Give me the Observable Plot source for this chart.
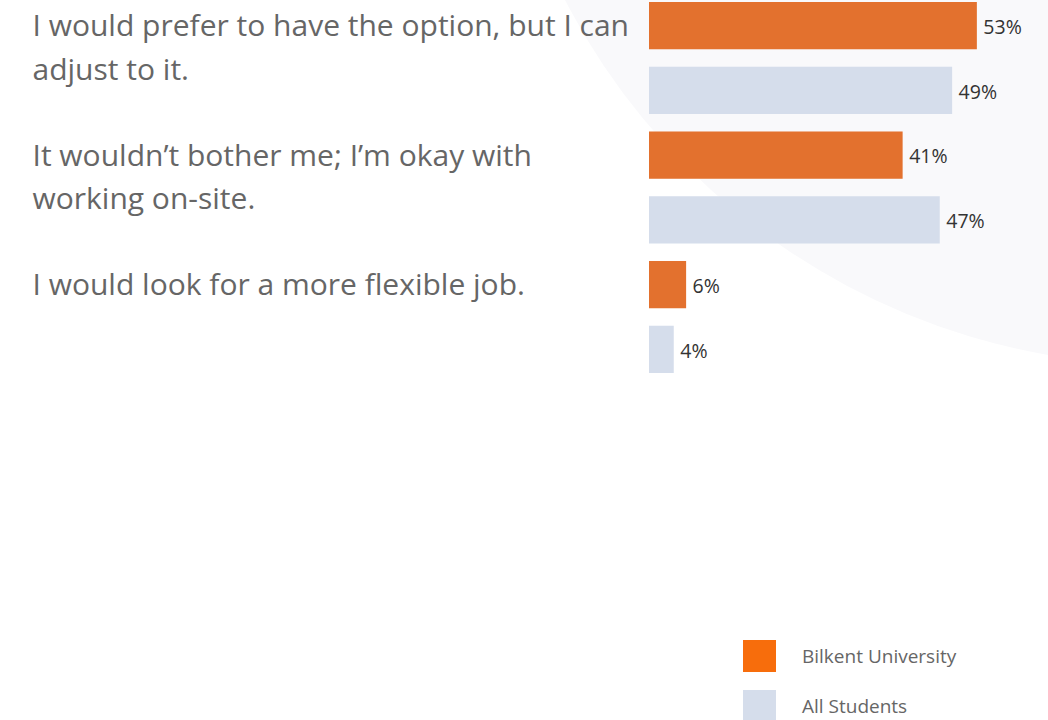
<!DOCTYPE html>
<html>
<head>
<meta charset="utf-8">
<script src="https://cdn.jsdelivr.net/npm/d3@7"></script>
<script src="https://cdn.jsdelivr.net/npm/@observablehq/plot@0.6"></script>
<style>
  html, body { margin: 0; padding: 0; background: #fff; width: 1048px; height: 720px; overflow: hidden; position: relative; font-family: "Open Sans", sans-serif; }
  #bgshape { position: absolute; left: 490px; top: -983px; width: 1348px; height: 1348px; border-radius: 50%; background: #f9f9fb; z-index: 0; }
  #chart { position: absolute; left: 0; top: 0; z-index: 1; }
  #legend { position: absolute; left: 743px; top: 640px; z-index: 1; }
  .item { display: flex; align-items: center; height: 32px; margin-bottom: 18px; }
  .sw { width: 33px; height: 32px; margin-right: 26px; }
  .lab { font-size: 19px; color: #666; }
</style>
</head>
<body>
<div id="bgshape"></div>
<div id="chart"></div>
<div id="legend"></div>
<script>
const categories = [
  "I would prefer to have the option, but I can\nadjust to it.",
  "It wouldn\u2019t bother me; I\u2019m okay with\nworking on-site.",
  "I would look for a more flexible job."
];
const seriesNames = ["Bilkent University", "All Students"];
const bilkent = [53, 41, 6];
const allStudents = [49, 47, 4];
const seriesColors = ["#E3712E", "#D5DDEB"];
const legendColors = ["#F76D0C", "#D5DDEB"];

const rows = [];
categories.forEach((c, i) => {
  rows.push({cat: c, series: seriesNames[0], key: i + "|0", value: bilkent[i]});
  rows.push({cat: c, series: seriesNames[1], key: i + "|1", value: allStudents[i]});
});
const keys = rows.map(d => d.key);
const catRows = categories.map((c, i) => ({cat: c, key: i + "|0"}));

const chart = Plot.plot({
  width: 1048,
  height: 400,
  marginLeft: 649,
  marginRight: 0,
  marginTop: 0,
  marginBottom: 0,
  style: {background: "transparent", fontFamily: "Open Sans, sans-serif"},
  x: {domain: [0, 64.5], axis: null},
  y: {domain: keys, range: [2, 373], paddingInner: 0.27, paddingOuter: 0, round: false, axis: null},
  color: {domain: seriesNames, range: seriesColors},
  marks: [
    Plot.barX(rows, {x: "value", y: "key", fill: "series"}),
    Plot.text(rows, {x: "value", y: "key", text: d => d.value + "%", textAnchor: "start", dx: 6, dy: 1.5, fontSize: 19.5, fill: "#333"}),
    Plot.text(catRows, {y: "key", text: "cat", frameAnchor: "left", dx: -617, textAnchor: "start", lineAnchor: "top", dy: -21, lineHeight: 1.45, fontSize: 30, fill: "#666"})
  ]
});
document.getElementById("chart").appendChild(chart);

const legend = document.getElementById("legend");
seriesNames.forEach((s, i) => {
  const item = document.createElement("div");
  item.className = "item";
  const sw = document.createElement("div");
  sw.className = "sw";
  sw.style.background = legendColors[i];
  const lab = document.createElement("div");
  lab.className = "lab";
  lab.textContent = s;
  item.appendChild(sw);
  item.appendChild(lab);
  legend.appendChild(item);
});
</script>
</body>
</html>
